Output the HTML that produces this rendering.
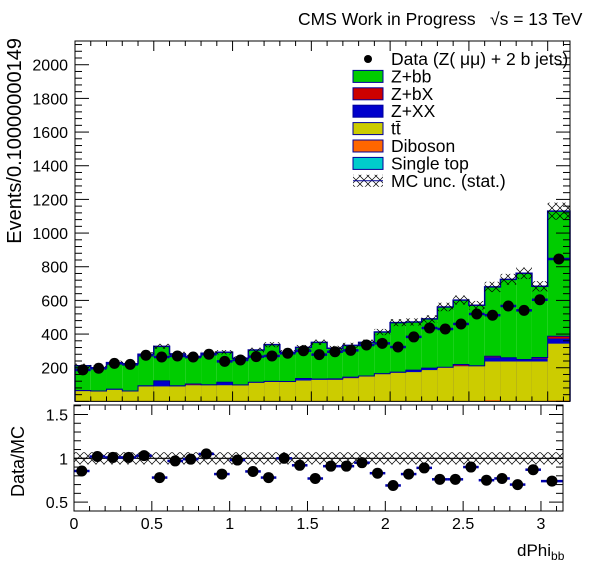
<!DOCTYPE html>
<html><head><meta charset="utf-8">
<style>
html,body{margin:0;padding:0;background:#fff;}
svg{display:block;font-family:"Liberation Sans",Arial,sans-serif;}
</style></head>
<body>
<svg id="c" width="596" height="572" viewBox="0 0 596 572" xmlns="http://www.w3.org/2000/svg">
<defs>
<pattern id="hx" width="8" height="8" patternUnits="userSpaceOnUse">
<path d="M0,0L8,8M8,0L0,8" stroke="#000" stroke-width="0.7" fill="none"/>
</pattern>
</defs>
<text x="298" y="25" font-size="17.5">CMS Work in Progress</text>
<text x="490" y="25" font-size="17.5">√s = 13 TeV</text>
<g id="main"></g>
<g id="ratio"></g>
<text transform="translate(21,38) rotate(-90)" font-size="20" text-anchor="end">Events/0.10000000149</text>
<text transform="translate(24,497) rotate(-90)" font-size="18">Data/MC</text>
<text x="517" y="556" font-size="17">dPhi<tspan font-size="12" dy="4">bb</tspan></text>
<g id="legend"></g>
</svg>
<script>
const binEdges=[0,0.1,0.2,0.3,0.4,0.5,0.6,0.7,0.8,0.9,1.0,1.1,1.2,1.3,1.4,1.5,1.6,1.7,1.8,1.9,2.0,2.1,2.2,2.3,2.4,2.5,2.6,2.7,2.8,2.9,3.0,3.14159];
const totalMC=[212,200,230,224,280,327,282,266,286,292,256,305,337,292,321,351,316,333,351,412,468,472,490,561,602,571,680,725,761,684,1130];
const dataVals=[187,197,226,220,274,264,270,264,280,238,246,266,270,286,301,278,295,303,335,345,323,383,436,430,460,519,512,567,541,604,846];
const ttbar=[58,56,66,56,86,86,86,93,93,93,93,108,113,112,121,125,125,135,145,159,167,171,183,198,206,206,230,234,234,234,338];
const zxx=[4,3,4,3,4,33,4,2,3,18,2,3,3,3,12,5,2,3,3,3,4,12,12,2,3,3,25,22,12,18,30];
const zbx=[0,0,0,0,0,0,0,5,0,0,0,0,0,0,0,0,4,3,0,0,0,0,0,0,7,0,6,0,0,6,14];
const diboson=[2,2,2,2,2,2,2,2,2,2,2,2,2,2,2,2,2,2,2,2,2,2,2,2,2,2,6,2,2,2,4];
const singleTop=[1,1,1,1,1,1,1,1,1,1,1,1,1,1,1,1,1,1,1,1,1,1,1,1,1,1,1,1,1,1,1];
const ratioVals=[0.855,1.02,1.01,1.01,1.03,0.78,0.97,0.99,1.05,0.82,0.98,0.85,0.78,1.0,0.92,0.77,0.91,0.91,0.95,0.83,0.69,0.82,0.89,0.76,0.76,0.9,0.75,0.77,0.70,0.87,0.74];
const ratioErr=[0.04,0.04,0.04,0.04,0.04,0.035,0.035,0.035,0.035,0.035,0.035,0.035,0.03,0.03,0.03,0.03,0.03,0.03,0.03,0.025,0.025,0.025,0.025,0.02,0.02,0.02,0.02,0.02,0.02,0.02,0.015];
const yTicks=[200,400,600,800,1000,1200,1400,1600,1800,2000];
const xTicks=[0,0.5,1,1.5,2,2.5,3];
const rTicks=[0.5,1,1.5];

const NS="http://www.w3.org/2000/svg";
function mk(parent,tag,attrs){const e=document.createElementNS(NS,tag);for(const k in attrs)e.setAttribute(k,attrs[k]);parent.appendChild(e);return e;}
const M={x0:75,x1:570,yT:41,yB:401.4,vMax:2141};
const xm=v=>M.x0+v/Math.PI*(M.x1-M.x0);
const ym=v=>M.yB-v/M.vMax*(M.yB-M.yT);
const R={x0:74,x1:563,yT:405,yB:511};
const xr=v=>R.x0+v/Math.PI*(R.x1-R.x0);
const yr=v=>458.3-(v-1)*87.6;

const main=document.getElementById('main');
const layers=[[singleTop,'#00cccc','single-top'],[diboson,'#ff6600','diboson'],[ttbar,'#cccc00','ttbar'],[zxx,'#0000cc','z-xx'],[zbx,'#cc0000','z-bx']];
const n=totalMC.length;
for(let i=0;i<n;i++){
  const r=mk(main,'rect',{x:xm(binEdges[i]),y:ym(totalMC[i]),width:xm(binEdges[i+1])-xm(binEdges[i]),height:ym(0)-ym(totalMC[i]),fill:'#00cc00'});
  
  
}
const tops=layers.map(()=>[]);
for(let i=0;i<n;i++){let c=0;layers.forEach((L,k)=>{c+=L[0][i];tops[k].push(c);});}
for(let k=layers.length-1;k>=0;k--){
  for(let i=0;i<n;i++){
    const t=tops[k][i];
    const r=mk(main,'rect',{x:xm(binEdges[i]),y:ym(t),width:xm(binEdges[i+1])-xm(binEdges[i]),height:ym(0)-ym(t),fill:layers[k][1]});
    
    
  }
}
function stepPath(vals){let d='M'+xm(binEdges[0])+','+ym(0);for(let i=0;i<n;i++){d+='L'+xm(binEdges[i])+','+ym(vals[i])+'L'+xm(binEdges[i+1])+','+ym(vals[i]);}d+='L'+xm(binEdges[n])+','+ym(0);return d;}
const ol=mk(main,'path',{d:stepPath(totalMC),fill:'none',stroke:'#000099','stroke-width':1.5});


const ol2=mk(main,'path',{d:stepPath(tops[4]),fill:'none',stroke:'#000099','stroke-width':1});


for(let i=0;i<n;i++){
  const e=Math.max(12,totalMC[i]*0.045);
  const r=mk(main,'rect',{x:xm(binEdges[i]),y:ym(totalMC[i]+e),width:xm(binEdges[i+1])-xm(binEdges[i]),height:ym(totalMC[i]-e)-ym(totalMC[i]+e),fill:'url(#hx)'});
  
  
}
for(let i=0;i<n;i++){
  const cx=(xm(binEdges[i])+xm(binEdges[i+1]))/2,cy=ym(dataVals[i]);
  const ln=mk(main,'line',{x1:xm(binEdges[i]),x2:xm(binEdges[i+1]),y1:cy,y2:cy,stroke:'#0000aa','stroke-width':2.5});
  
  
  const c=mk(main,'circle',{cx:cx,cy:cy,r:5.5,fill:'#000'});
  
  
}
const fr=mk(main,'rect',{x:M.x0,y:M.yT,width:M.x1-M.x0,height:M.yB-M.yT,fill:'none',stroke:'#000','stroke-width':1});


for(let v=0;v<=2140;v+=40){const y=ym(v);const L=(v%200===0)?14:7;
  mk(main,'line',{x1:M.x0,x2:M.x0+L,y1:y,y2:y,stroke:'#000'});
  mk(main,'line',{x1:M.x1,x2:M.x1-L,y1:y,y2:y,stroke:'#000'});}
yTicks.forEach(v=>{const t=mk(main,'text',{x:68,y:ym(v)+6,'font-size':16,'text-anchor':'end'});t.textContent=v;
  
  });
for(let k=0;k<=31;k++){const v=k/10;const x=xm(v);const L=(k%5===0)?10:5;
  mk(main,'line',{x1:x,x2:x,y1:M.yB,y2:M.yB-L,stroke:'#000'});
  mk(main,'line',{x1:x,x2:x,y1:M.yT,y2:M.yT+L,stroke:'#000'});}

const rg=document.getElementById('ratio');
const band=mk(rg,'rect',{x:R.x0,y:yr(1.07),width:R.x1-R.x0,height:yr(0.93)-yr(1.07),fill:'url(#hx)'});


const one=mk(rg,'line',{x1:R.x0,x2:R.x1,y1:yr(1),y2:yr(1),stroke:'#000','stroke-width':1.2});


for(let i=0;i<n;i++){
  const a=xr(binEdges[i]),b=xr(binEdges[i+1]),cy=yr(ratioVals[i]),cx=(a+b)/2;
  const h=mk(rg,'line',{x1:a,x2:b,y1:cy,y2:cy,stroke:'#0000aa','stroke-width':2.5});
  
  
  const v=mk(rg,'line',{x1:cx,x2:cx,y1:yr(ratioVals[i]+ratioErr[i]),y2:yr(ratioVals[i]-ratioErr[i]),stroke:'#0000aa','stroke-width':2.5});
  
  
  const c=mk(rg,'circle',{cx:cx,cy:cy,r:5.5,fill:'#000'});
  
  
}
const rf=mk(rg,'rect',{x:R.x0,y:R.yT,width:R.x1-R.x0,height:R.yB-R.yT,fill:'none',stroke:'#000'});


for(let k=5;k<=16;k++){const v=k/10;const y=yr(v);const L=(k%5===0)?14:7;
  mk(rg,'line',{x1:R.x0,x2:R.x0+L,y1:y,y2:y,stroke:'#000'});
  mk(rg,'line',{x1:R.x1,x2:R.x1-L,y1:y,y2:y,stroke:'#000'});}
rTicks.forEach(v=>{const t=mk(rg,'text',{x:68,y:yr(v)+6,'font-size':16,'text-anchor':'end'});t.textContent=String(v);
  
  });
for(let k=0;k<=31;k++){const v=k/10;const x=xr(v);const L=(k%5===0)?10:5;
  mk(rg,'line',{x1:x,x2:x,y1:R.yB,y2:R.yB-L,stroke:'#000'});
  mk(rg,'line',{x1:x,x2:x,y1:R.yT,y2:R.yT+L,stroke:'#000'});}
xTicks.forEach(v=>{const t=mk(rg,'text',{x:xr(v),y:529,'font-size':16,'text-anchor':'middle'});t.textContent=String(v);
  
  });

const lg=document.getElementById('legend');
const entries=[['Data (Z( μμ) + 2 b jets)','data'],['Z+bb','#00cc00'],['Z+bX','#cc0000'],['Z+XX','#0000cc'],['tt̄','#cccc00'],['Diboson','#ff6600'],['Single top','#00cccc'],['MC unc. (stat.)','hatch']];
entries.forEach((e,i)=>{
  const y=58+i*17.4;
  const g=mk(lg,'g',{});
  
  
  if(e[1]==='data'){mk(g,'circle',{cx:368,cy:y+1,r:4,fill:'#000'});}
  else if(e[1]==='hatch'){mk(g,'rect',{x:353,y:y-5,width:30,height:12,fill:'url(#hx)'});mk(g,'line',{x1:353,x2:383,y1:y+1,y2:y+1,stroke:'#000099'});}
  else{mk(g,'rect',{x:353,y:y-5,width:30,height:12,fill:e[1],stroke:'#000099','stroke-width':1});}
  const t=mk(g,'text',{x:391,y:y+7,'font-size':17.5});t.textContent=e[0];
});
</script>
</body></html>
